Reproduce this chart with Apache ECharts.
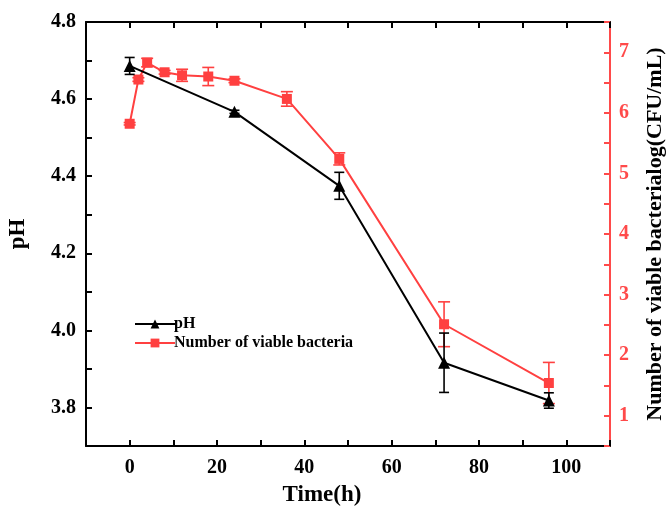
<!DOCTYPE html>
<html>
<head>
<meta charset="utf-8">
<script src="https://cdn.jsdelivr.net/npm/echarts@6/dist/echarts.min.js"></script>
<style>
    html, body { margin: 0; padding: 0; background: #fff; }
    #chart { width: 670px; height: 506px; }
</style>
</head>
<body>
<div id="chart"></div>
<script>
// 数据
const phTime = [0, 24, 48, 72, 96]
const phMean = [4.686, 4.567, 4.375, 3.916, 3.818]
const phErr = [0.022, 0.004, 0.035, 0.077, 0.02]

const bacTime = [0, 2, 4, 8, 12, 18, 24, 36, 48, 72, 96]
const bacMean = [5.82, 6.55, 6.83, 6.67, 6.62, 6.60, 6.53, 6.23, 5.24, 2.51, 1.54]
const bacErr = [0.02, 0.03, 0.07, 0.03, 0.1, 0.15, 0.03, 0.12, 0.1, 0.37, 0.34]

// 刻度标签
const xMajor = [0, 20, 40, 60, 80, 100]
const phMajor = [3.8, 4.0, 4.2, 4.4, 4.6, 4.8]
const bacMajor = [1, 2, 3, 4, 5, 6, 7]

const font = 'Liberation Serif'
const red = '#ff4040'
const redAxis = '#ff4a4a';

(function () {
    const echartsInstance = echarts.init(document.getElementById('chart'))

    // 误差棒
    function errorBar(color, cap) {
        return function (params, api) {
            const x = api.value(0)
            const y = api.value(1)
            const e = api.value(2)
            const top = api.coord([x, y + e])
            const bot = api.coord([x, y - e])
            const style = { stroke: color, lineWidth: 1.6 }
            return {
                type: 'group',
                children: [
                    { type: 'line', shape: { x1: top[0], y1: top[1], x2: bot[0], y2: bot[1] }, style: style },
                    { type: 'line', shape: { x1: top[0] - cap, y1: top[1], x2: top[0] + cap, y2: top[1] }, style: style },
                    { type: 'line', shape: { x1: bot[0] - cap, y1: bot[1], x2: bot[0] + cap, y2: bot[1] }, style: style }
                ]
            }
        }
    }

    const tickStyle = { inside: true, length: 6, lineStyle: { color: '#000', width: 2 } }

    const option = {
        animation: false,
        grid: { left: 86, top: 22, right: 60, bottom: 60, outerBoundsMode: 'none' },
        legend: {
            orient: 'vertical',
            left: 129,
            top: 311,
            itemWidth: 40,
            itemHeight: 11,
            itemGap: 3,
            data: ['pH', 'Number of viable bacteria'],
            textStyle: { fontFamily: font, fontWeight: 'bold', fontSize: 16, color: '#000', padding: [0, 0, 0, -6] }
        },
        xAxis: [
            {
                type: 'value', position: 'bottom', min: -10, max: 110, interval: 10,
                splitLine: { show: false },
                name: 'Time(h)',
                nameLocation: 'middle',
                nameGap: 38,
                nameTextStyle: { fontFamily: font, fontWeight: 'bold', fontSize: 23, color: '#000', padding: [0, 52, 0, 0] },
                axisLine: { onZero: false, lineStyle: { color: '#000', width: 2 } },
                axisTick: tickStyle,
                axisLabel: { customValues: xMajor, color: '#000', fontFamily: font, fontWeight: 'bold', fontSize: 20, margin: 12 }
            },
            {
                type: 'value', position: 'top', min: -10, max: 110, interval: 10,
                splitLine: { show: false },
                axisLine: { onZero: false, lineStyle: { color: '#000', width: 2 } },
                axisTick: tickStyle,
                axisLabel: { show: false }
            }
        ],
        yAxis: [
            {
                type: 'value', position: 'left', min: 3.7, max: 4.8, interval: 0.1,
                splitLine: { show: false },
                name: 'pH', nameLocation: 'middle', nameGap: 56, nameRotate: 90,
                nameTextStyle: { fontFamily: font, fontWeight: 'bold', fontSize: 23, color: '#000' },
                axisLine: { show: true, onZero: false, lineStyle: { color: '#000', width: 2 } },
                axisTick: tickStyle,
                axisLabel: { customValues: phMajor, color: '#000', fontFamily: font, fontWeight: 'bold', fontSize: 20, margin: 10, formatter: v => v.toFixed(1) }
            },
            {
                type: 'value', position: 'right', min: 0.5, max: 7.5, interval: 0.5,
                splitLine: { show: false },
                name: 'Number of viable bacterialog(CFU/mL)', nameLocation: 'middle', nameGap: 34, nameRotate: 90,
                nameTextStyle: { fontFamily: font, fontWeight: 'bold', fontSize: 22, color: '#000' },
                axisLine: { show: true, onZero: false, lineStyle: { color: redAxis, width: 2 } },
                axisTick: { inside: true, length: 6, lineStyle: { color: redAxis, width: 2 } },
                axisLabel: { customValues: bacMajor, color: redAxis, fontFamily: font, fontWeight: 'bold', fontSize: 20, margin: 9 }
            }
        ],
        series: [
            {
                name: 'pH',
                type: 'line',
                xAxisIndex: 0,
                yAxisIndex: 0,
                data: phTime.map((t, i) => [t, phMean[i]]),
                symbol: 'triangle',
                symbolSize: 12,
                itemStyle: { color: '#000' },
                lineStyle: { color: '#000', width: 2 },
                z: 3
            },
            {
                name: 'Number of viable bacteria',
                type: 'line',
                xAxisIndex: 0,
                yAxisIndex: 1,
                data: bacTime.map((t, i) => [t, bacMean[i]]),
                symbol: 'rect',
                symbolSize: 10,
                itemStyle: { color: red },
                lineStyle: { color: red, width: 2 },
                z: 2
            },
            {
                type: 'custom',
                xAxisIndex: 0,
                yAxisIndex: 0,
                renderItem: errorBar('#000', 5),
                encode: { x: 0, y: 1 },
                data: phTime.map((t, i) => [t, phMean[i], phErr[i]]),
                z: 4
            },
            {
                type: 'custom',
                xAxisIndex: 0,
                yAxisIndex: 1,
                renderItem: errorBar(red, 6),
                encode: { x: 0, y: 1 },
                data: bacTime.map((t, i) => [t, bacMean[i], bacErr[i]]),
                z: 2
            }
        ]
    }
    echartsInstance.setOption(option)
    window.addEventListener('resize', () => {
        echartsInstance.resize()
    })
})();
</script>
</body>
</html>
